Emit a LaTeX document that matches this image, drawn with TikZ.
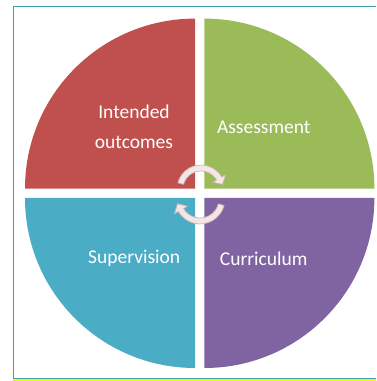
\documentclass[tikz,border=0pt]{standalone}
\usepackage{fontspec}
\setmainfont{Carlito}
\usepackage{xcolor}
\usepackage{tikz}

\definecolor{qred}{HTML}{C0504D}
\definecolor{qgreen}{HTML}{9BBB59}
\definecolor{qblue}{HTML}{4BACC6}
\definecolor{qpurple}{HTML}{8064A2}
\definecolor{framecol}{HTML}{3E9DAE}
\definecolor{cycfill}{HTML}{F4E6E6}
\definecolor{cycline}{HTML}{C9B5B5}

\begin{document}
\begin{tikzpicture}[
    x=1pt, y=1pt,
    quad/.style={fill=#1},
    lbl/.style={text=white, align=center, inner sep=0pt, anchor=base, font=\fontsize{19.5}{30}\selectfont},
    cyc/.style={fill=cycfill, draw=cycline, line width=0.7pt, line join=round}
  ]
    \useasboundingbox (0,0) rectangle (376,381);

    % frame
    \fill[yellow] (13,0) rectangle (376,1.6);
    \draw[framecol, line width=0.9pt] (376,2.3) -- (13.8,2.3) -- (13.8,375) -- (376,375);

    % four quarters
    \fill[quad=qred] (195,192.4) -- ++(0,170) arc[start angle=90, end angle=180, radius=170] -- cycle;
    \fill[quad=qgreen] (204.4,192.4) -- ++(170,0) arc[start angle=0, end angle=90, radius=170] -- cycle;
    \fill[quad=qblue] (195,183) -- ++(-170,0) arc[start angle=180, end angle=270, radius=170] -- cycle;
    \fill[quad=qpurple] (204.4,183) -- ++(0,-170) arc[start angle=270, end angle=360, radius=170] -- cycle;

    \node[lbl] (intended) at (134,232) {Intended\\outcomes};
    \node[lbl] (assess) at (263.7,247) {Assessment};
    \node[lbl] (superv) at (134.2,117.3) {Supervision};
    \node[lbl] (curric) at (263.7,115) {Curriculum};

    % cycle arrows in the middle
    \begin{scope}[shift={(201,192)}]
      \filldraw[cyc] (165:24) arc[start angle=165, end angle=30, radius=24] -- (30:28.5) -- (12:22) -- (30:13.5) -- (30:18) arc[start angle=30, end angle=165, radius=18] -- cycle;
    \end{scope}
    \begin{scope}[shift={(200,182)}]
      \filldraw[cyc] (-15:25) arc[start angle=-15, end angle=-150, radius=25] -- (210:29.5) -- (192:23) -- (210:14.5) -- (210:19) arc[start angle=-150, end angle=-15, radius=19] -- cycle;
    \end{scope}
\end{tikzpicture}
\end{document}
